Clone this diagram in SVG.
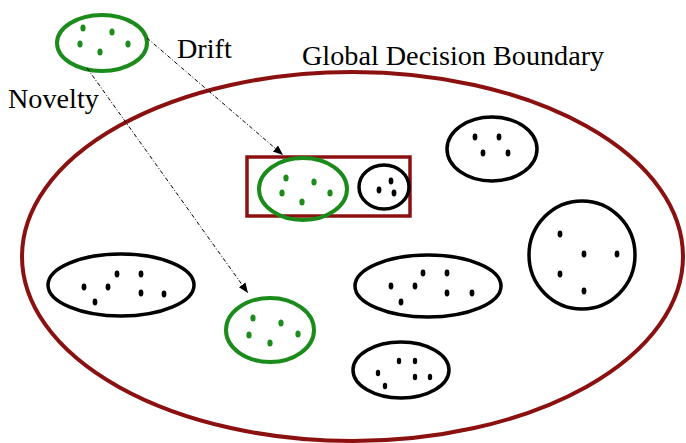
<svg xmlns="http://www.w3.org/2000/svg" width="686" height="443" viewBox="0 0 686 443">
<defs>
<style>
.boundary{fill:none;stroke:#8b1010;stroke-width:4}
.gc{fill:none;stroke:#1b8c1b;stroke-width:4}
.bc{fill:none;stroke:#000;stroke-width:3.5}
.gd{fill:#1b8c1b}
.bd{fill:#000}
.lbl{font-family:"Liberation Serif","Times New Roman",serif;font-size:28.2px;fill:#000}
.conn{fill:none;stroke:#000;stroke-width:1;stroke-dasharray:4 2 1 2}
</style>
<marker id="arr" viewBox="0 0 10 10" refX="10" refY="5" markerWidth="10" markerHeight="10" markerUnits="userSpaceOnUse" orient="auto">
<path d="M0,1 L10,5 L0,9 z" fill="#000"/>
</marker>
</defs>
<rect width="686" height="443" fill="#fff"/>
<g id="global-boundary">
<ellipse class="boundary" cx="352.5" cy="256.5" rx="330.5" ry="184.5"/>
<text class="lbl" x="302" y="65">Global Decision Boundary</text>
</g>
<g id="drift-box">
<rect x="247" y="157" width="163" height="59" fill="none" stroke="#8b1010" stroke-width="3.5"/>
</g>
<g id="source-cluster">
<ellipse class="gc" cx="102" cy="43" rx="45" ry="28"/>
<ellipse class="gd" cx="83" cy="28" rx="2.6" ry="3.6"/>
<ellipse class="gd" cx="112" cy="32" rx="2.6" ry="3.6"/>
<ellipse class="gd" cx="80" cy="44" rx="2.6" ry="3.6"/>
<ellipse class="gd" cx="128" cy="44" rx="2.6" ry="3.6"/>
<ellipse class="gd" cx="100" cy="52" rx="2.6" ry="3.6"/>
</g>
<g id="drift-label"><text class="lbl" x="177" y="58">Drift</text></g>
<g id="novelty-label"><text class="lbl" x="8" y="108">Novelty</text></g>
<g id="drift-cluster">
<ellipse class="gc" cx="303" cy="189" rx="44" ry="31"/>
<ellipse class="gd" cx="286" cy="178" rx="2.6" ry="3.6"/>
<ellipse class="gd" cx="314" cy="182" rx="2.6" ry="3.6"/>
<ellipse class="gd" cx="282" cy="193" rx="2.6" ry="3.6"/>
<ellipse class="gd" cx="330" cy="193" rx="2.6" ry="3.6"/>
<ellipse class="gd" cx="302" cy="202" rx="2.6" ry="3.6"/>
</g>
<g id="box-cluster">
<ellipse class="bc" cx="384" cy="187" rx="25" ry="22"/>
<ellipse class="bd" cx="391" cy="181" rx="2.4" ry="3.4"/>
<ellipse class="bd" cx="379" cy="190" rx="2.4" ry="3.4"/>
<ellipse class="bd" cx="394" cy="193" rx="2.4" ry="3.4"/>
</g>
<g id="novelty-cluster">
<ellipse class="gc" cx="270" cy="330" rx="44" ry="32"/>
<ellipse class="gd" cx="253" cy="318" rx="2.6" ry="3.6"/>
<ellipse class="gd" cx="281" cy="323" rx="2.6" ry="3.6"/>
<ellipse class="gd" cx="249" cy="335" rx="2.6" ry="3.6"/>
<ellipse class="gd" cx="298" cy="334" rx="2.6" ry="3.6"/>
<ellipse class="gd" cx="270" cy="343" rx="2.6" ry="3.6"/>
</g>
<g id="cluster-top-right">
<ellipse class="bc" cx="492" cy="149" rx="45" ry="32"/>
<ellipse class="bd" cx="475" cy="137" rx="2.4" ry="3.4"/>
<ellipse class="bd" cx="499" cy="137" rx="2.4" ry="3.4"/>
<ellipse class="bd" cx="483" cy="153" rx="2.4" ry="3.4"/>
<ellipse class="bd" cx="508" cy="153" rx="2.4" ry="3.4"/>
</g>
<g id="cluster-right">
<ellipse class="bc" cx="582" cy="255" rx="53" ry="54"/>
<ellipse class="bd" cx="560" cy="234" rx="2.4" ry="3.4"/>
<ellipse class="bd" cx="584" cy="254" rx="2.4" ry="3.4"/>
<ellipse class="bd" cx="617" cy="254" rx="2.4" ry="3.4"/>
<ellipse class="bd" cx="560" cy="274" rx="2.4" ry="3.4"/>
<ellipse class="bd" cx="584" cy="291" rx="2.4" ry="3.4"/>
</g>
<g id="cluster-left">
<ellipse class="bc" cx="121" cy="285" rx="73" ry="31"/>
<ellipse class="bd" cx="117" cy="274" rx="2.4" ry="3.4"/>
<ellipse class="bd" cx="141" cy="274" rx="2.4" ry="3.4"/>
<ellipse class="bd" cx="84" cy="287" rx="2.4" ry="3.4"/>
<ellipse class="bd" cx="108" cy="287" rx="2.4" ry="3.4"/>
<ellipse class="bd" cx="141" cy="293" rx="2.4" ry="3.4"/>
<ellipse class="bd" cx="164" cy="294" rx="2.4" ry="3.4"/>
<ellipse class="bd" cx="95" cy="302" rx="2.4" ry="3.4"/>
</g>
<g id="cluster-middle">
<ellipse class="bc" cx="428" cy="286" rx="73" ry="31"/>
<ellipse class="bd" cx="423" cy="273" rx="2.4" ry="3.4"/>
<ellipse class="bd" cx="447" cy="273" rx="2.4" ry="3.4"/>
<ellipse class="bd" cx="391" cy="286" rx="2.4" ry="3.4"/>
<ellipse class="bd" cx="415" cy="286" rx="2.4" ry="3.4"/>
<ellipse class="bd" cx="447" cy="293" rx="2.4" ry="3.4"/>
<ellipse class="bd" cx="472" cy="293" rx="2.4" ry="3.4"/>
<ellipse class="bd" cx="401" cy="302" rx="2.4" ry="3.4"/>
</g>
<g id="cluster-bottom">
<ellipse class="bc" cx="401" cy="370" rx="48" ry="28"/>
<ellipse class="bd" cx="399" cy="361" rx="2.2" ry="3.2"/>
<ellipse class="bd" cx="415" cy="361" rx="2.2" ry="3.2"/>
<ellipse class="bd" cx="378" cy="373" rx="2.2" ry="3.2"/>
<ellipse class="bd" cx="415" cy="377" rx="2.2" ry="3.2"/>
<ellipse class="bd" cx="430" cy="377" rx="2.2" ry="3.2"/>
<ellipse class="bd" cx="385" cy="386" rx="2.2" ry="3.2"/>
</g>
<g id="connectors">
<line class="conn" x1="147" y1="38" x2="283" y2="155" marker-end="url(#arr)"/>
<line class="conn" x1="87" y1="68" x2="248" y2="293" marker-end="url(#arr)"/>
</g>
</svg>
